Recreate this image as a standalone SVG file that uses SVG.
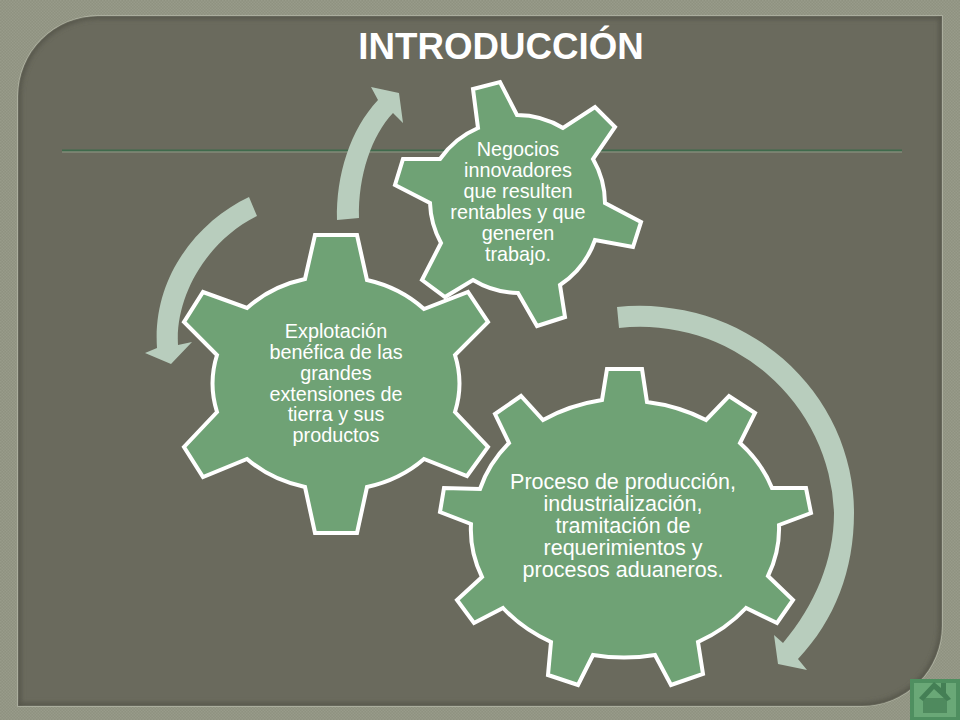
<svg xmlns="http://www.w3.org/2000/svg" width="960" height="720" viewBox="0 0 960 720">
<style>
.gear{fill:#6fa275;stroke:#fff;stroke-width:4;stroke-linejoin:miter}
.arrow{fill:#b8cdbd}
text{font-family:"Liberation Sans",Arial,sans-serif;fill:#fff;text-anchor:middle}
.t1{font-size:19.800px}.t2{font-size:19.800px}.t3{font-size:21.500px}
</style>
<defs>
<pattern id="tex" width="3" height="3" patternUnits="userSpaceOnUse">
<rect width="3" height="3" fill="#8f9280"/>
<rect width="1.500" height="1.500" fill="#989b8a"/>
<rect x="1.500" y="1.500" width="1.500" height="1.500" fill="#989b8a"/>
</pattern>
<path id="panelShape" d="M98 16H942V626A80 80 0 0 1 862 706H18V96A80 80 0 0 1 98 16Z"/>
<clipPath id="panelClip"><use href="#panelShape"/></clipPath>
<filter id="blur" x="-5%" y="-5%" width="110%" height="110%"><feGaussianBlur stdDeviation="2.500"/></filter>
</defs>
<g id="background">
<rect width="960" height="720" fill="url(#tex)"/>
<use href="#panelShape" fill="#6a6a5d" stroke="#b4b7a6" stroke-width="1.500"/>
<g clip-path="url(#panelClip)"><use href="#panelShape" fill="none" stroke="#55554a" stroke-width="6" filter="url(#blur)"/></g>
</g>
<g id="title"><text x="501" y="59" font-size="36.700" font-weight="bold">INTRODUCCIÓN</text></g>
<g id="rule"><rect x="62" y="149.500" width="840" height="2" fill="#3f6a4c"/><rect x="62" y="151.500" width="840" height="1" fill="#8d9a86"/></g>
<g id="connectors">
<path class="arrow" d="M337 220C336 175 350 130 378 100L371 87L399 93L403 123L393 113C372 135 358 175 359 218Z"/>
<path class="arrow" d="M249 197C200 220 152 275 157 348L145 353L171 364L192 342L178 345C175 295 208 240 257 216Z"/>
<path class="arrow" d="M617 307A214 207 0 0 1 854 513C854 570 835 620 798 659L807 670L778 664L774 635L783 643C815 605 834 560 834 513A194 193 0 0 0 619 328Z"/>
</g>
<g id="gear-1">
<path class="gear" d="M478 128L473 89L500 82L517 115A89 89 0 0 1 563 128L595 107L615 127L593 159A89 89 0 0 1 605 203L641 222L633 247L595 240A89 89 0 0 1 560 285L565 317L537 326L518 293A89 89 0 0 1 473 280L445 297L422 280L441 243A89 89 0 0 1 430 203L395 185L403 159L440 159A89 89 0 0 1 478 128Z"/>
<text class="t1"><tspan x="518" y="156">Negocios</tspan><tspan x="518" y="177">innovadores</tspan><tspan x="518" y="198">que resulten</tspan><tspan x="518" y="219">rentables y que</tspan><tspan x="518" y="240">generen</tspan><tspan x="518" y="261">trabajo.</tspan></text>
</g>
<g id="gear-2">
<path class="gear" d="M305 279L315 235H357L367 280A122 107 0 0 1 424 309L468 292L488 322L455 355A122 107 0 0 1 455 412L488 447L467 476L424 459A122 107 0 0 1 367 487L357 533H315L305 487A122 107 0 0 1 247 459L203 477L184 447L217 412A122 107 0 0 1 217 355L184 322L203 292L247 308A122 107 0 0 1 305 279Z"/>
<text class="t2"><tspan x="336" y="338">Explotación</tspan><tspan x="336" y="359">benéfica de las</tspan><tspan x="336" y="380">grandes</tspan><tspan x="336" y="401">extensiones de</tspan><tspan x="336" y="421">tierra y sus</tspan><tspan x="336" y="442">productos</tspan></text>
</g>
<g id="gear-3">
<path class="gear" d="M602 400L607 369H642L647 402A155 127 0 0 1 706 420L729 396L755 413L740 443A155 127 0 0 1 772 488L806 488L811 513L779 525A155 127 0 0 1 768 576L793 600L777 623L746 608A155 127 0 0 1 698 642L703 674L671 685L655 655A155 127 0 0 1 593 655L578 685L548 675L551 642A155 127 0 0 1 503 608L474 623L457 600L482 577A155 127 0 0 1 471 524L440 512L444 488L480 489A155 127 0 0 1 509 443L495 414L521 396L543 420A155 127 0 0 1 602 400Z"/>
<text class="t3"><tspan x="623" y="489">Proceso de producción,</tspan><tspan x="623" y="511">industrialización,</tspan><tspan x="623" y="533">tramitación de</tspan><tspan x="623" y="555">requerimientos y</tspan><tspan x="623" y="577">procesos aduaneros.</tspan></text>
</g>
<g id="home-button">
<rect x="912" y="681" width="46" height="38" fill="#6aa877" stroke="#4f8f60" stroke-width="4"/>
<path d="M923 698H947V713H923Z" fill="#4f8a5e"/>
<path d="M919 698L934 682L941 688V683H946V693L951 699L947 701L934 689L923 701Z" fill="#447f55"/>
</g>
</svg>
